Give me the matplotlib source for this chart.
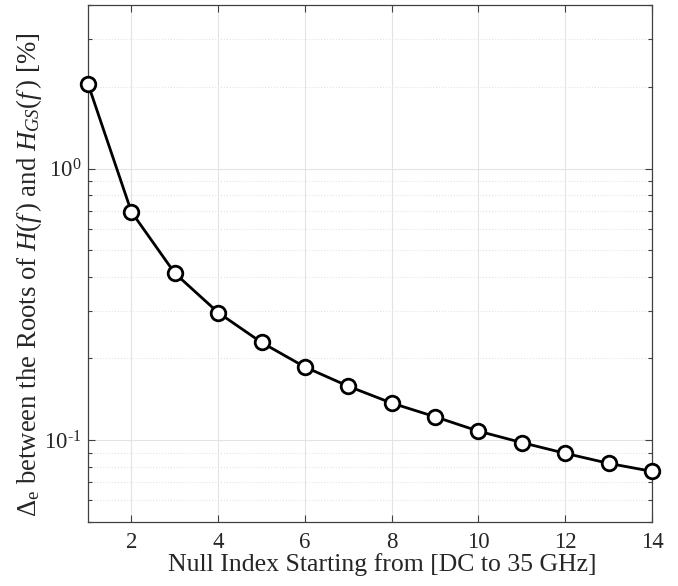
import matplotlib
matplotlib.use("Agg")
import matplotlib.pyplot as plt
from matplotlib.ticker import LogLocator, NullFormatter, FixedLocator, FuncFormatter
import numpy as np

null_index = [1, 2, 3, 4, 5, 6, 7, 8, 9, 10, 11, 12, 13, 14]
delta_e = [2.05, 0.693, 0.412, 0.295, 0.229, 0.186, 0.158, 0.137, 0.122,
           0.108, 0.098, 0.0895, 0.0822, 0.0768]
x_ticks = [2, 4, 6, 8, 10, 12, 14]

plt.rcParams.update({
    "font.family": ["Liberation Serif", "DejaVu Serif"],
    "mathtext.fontset": "custom",
    "mathtext.rm": "Liberation Serif",
    "mathtext.it": "Liberation Serif:italic",
    "mathtext.bf": "Liberation Serif:bold",
    "axes.unicode_minus": False,
})


def log_label(v, pos):
    exp = int(round(np.log10(v)))
    sign = "\u2010" if exp < 0 else ""
    return "10$^{\\mathrm{%s%d}}$" % (sign, abs(exp))


fig = plt.figure(figsize=(6.78, 5.86), dpi=100)
ax = fig.add_axes([0.1298, 0.1092, 0.8319, 0.8823])

ax.plot(null_index, delta_e, color="black", linewidth=2.0, marker="o",
        markersize=10.5, markerfacecolor="white", markeredgecolor="black",
        markeredgewidth=2.0, zorder=3, clip_on=False)

ax.set_yscale("log")
ax.set_xlim(1, 14)
ax.set_ylim(0.05, 4)
ax.xaxis.set_major_locator(FixedLocator(x_ticks))
ax.yaxis.set_major_locator(LogLocator(base=10, numticks=10))
ax.yaxis.set_major_formatter(FuncFormatter(log_label))
ax.yaxis.set_minor_locator(LogLocator(base=10, subs=range(2, 10), numticks=20))
ax.yaxis.set_minor_formatter(NullFormatter())

ax.grid(True, which="major", color="#e3e3e3", linewidth=0.8, linestyle="-")
ax.grid(True, which="minor", axis="y", color="#e3e3e3", linewidth=0.8, linestyle=":")
ax.set_axisbelow(True)

ax.tick_params(which="both", direction="in", top=True, right=True,
               color="#404040", labelcolor="#262626", labelsize=16.5)
ax.tick_params(which="major", length=5, width=0.8)
ax.tick_params(axis="x", which="major", pad=7)
ax.tick_params(axis="y", which="major", pad=5)
ax.tick_params(which="minor", length=3, width=0.8)
for s in ax.spines.values():
    s.set_color("#404040")
    s.set_linewidth(0.9)

ax.set_xlabel("Null Index Starting from [DC to 35 GHz]", fontsize=18.5,
              color="#262626", labelpad=0)
ax.set_ylabel(r"$\Delta_{\rm e}$ between the Roots of $H(f\,)$ and $H_{GS}(f\,)$ [%]",
              fontsize=19.3, color="#262626", labelpad=0)
ax.xaxis.label.set_x(0.521)
ax.yaxis.label.set_y(0.479)

fig.savefig("out.png", dpi=100)
